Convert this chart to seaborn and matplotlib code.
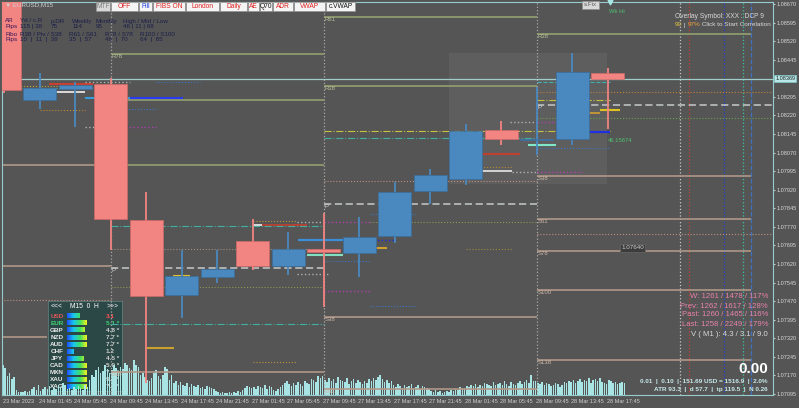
import numpy as np
import matplotlib
matplotlib.use('Agg')
import matplotlib.pyplot as plt
from matplotlib.patches import Rectangle
from matplotlib.colors import LinearSegmentedColormap
import seaborn as sns

sns.set_style('dark')
plt.rcParams['font.family'] = ['Liberation Sans', 'DejaVu Sans']

W, H = 799, 408
BG = '#555555'
UP = '#4a88c0'
DN = '#f28482'

# H4 candles overlaid on the M15 chart (EURUSD)
c_open = [1.08700, 1.08282, 1.08327, 1.08347, 1.07798, 1.07495, 1.07568, 1.07713, 1.07612,
          1.07681, 1.07665, 1.07733, 1.07915, 1.07963, 1.08161, 1.08121, 1.08125, 1.08391]
c_high = [1.08720, 1.08391, 1.08355, 1.08371, 1.07911, 1.07677, 1.07677, 1.07802, 1.07749,
          1.07826, 1.07810, 1.07951, 1.08004, 1.08185, 1.08198, 1.08335, 1.08472, 1.08412]
c_low = [1.08310, 1.08246, 1.08173, 1.07677, 1.07140, 1.07402, 1.07543, 1.07596, 1.07576,
         1.07447, 1.07568, 1.07705, 1.07862, 1.07939, 1.08101, 1.08060, 1.08101, 1.08165]
c_close = [1.08323, 1.08331, 1.08343, 1.07802, 1.07491, 1.07572, 1.07600, 1.07612, 1.07681,
           1.07669, 1.07729, 1.07911, 1.07980, 1.08157, 1.08125, 1.08125, 1.08395, 1.08369]

# M15 tick volume (one value per bar)
volume = [30, 27, 19, 22, 16, 18, 5, 3, 3, 3, 4, 3, 4, 6, 8, 5,
          10, 4, 6, 8, 6, 9, 5, 7, 6, 10, 8, 12, 10, 6, 7, 5,
          8, 6, 9, 7, 5, 10, 8, 15, 20, 18, 25, 28, 22, 24, 30, 26,
          22, 25, 30, 27, 24, 28, 26, 32, 30, 27, 25, 35, 30, 28, 20, 22,
          18, 15, 14, 17, 22, 25, 19, 16, 20, 28, 26, 15, 20, 12, 14, 10,
          13, 10, 9, 12, 8, 11, 9, 8, 10, 7, 8, 6, 9, 8, 7, 6,
          4, 3, 2, 3, 2, 2, 3, 2, 3, 2, 4, 3, 5, 7, 9, 8,
          7, 8, 6, 9, 8, 7, 10, 6, 9, 8, 5, 4, 6, 8, 10, 12,
          14, 11, 9, 12, 10, 13, 11, 9, 14, 12, 11, 16, 15, 13, 19, 17,
          19, 15, 13, 17, 14, 16, 12, 18, 15, 14, 13, 17, 11, 14, 16, 12,
          15, 13, 11, 14, 12, 16, 14, 17, 15, 18, 20, 16, 13, 15, 12, 14,
          10, 8, 11, 9, 7, 10, 8, 9, 11, 7, 8, 10, 6, 9, 8, 7,
          6, 4, 3, 5, 3, 4, 2, 3, 4, 3, 5, 4, 6, 5, 8, 7,
          7, 9, 8, 10, 9, 11, 8, 10, 9, 12, 11, 10, 9, 13, 10, 11,
          12, 10, 14, 11, 9, 13, 11, 10, 12, 14, 11, 13, 15, 12, 20, 14,
          14, 12, 11, 13, 10, 12, 11, 9, 10, 12, 11, 8, 10, 13, 12, 14,
          13, 15, 12, 14, 16, 13, 15, 14, 17, 12, 15, 16, 14, 17, 13, 12,
          11, 15, 14, 12, 13, 11, 12, 13, 12]

time_labels = ['23 Mar 2023', '24 Mar 01:45', '24 Mar 05:45', '24 Mar 09:45', '24 Mar 13:45',
               '24 Mar 17:45', '24 Mar 21:45', '27 Mar 01:45', '27 Mar 05:45', '27 Mar 09:45',
               '27 Mar 13:45', '27 Mar 17:45', '27 Mar 21:45', '28 Mar 01:45', '28 Mar 05:45',
               '28 Mar 09:45', '28 Mar 13:45', '28 Mar 17:45']
price_ticks = [1.08670, 1.08595, 1.08520, 1.08445, 1.08295, 1.08220, 1.08145, 1.08070,
               1.07995, 1.07920, 1.07845, 1.07770, 1.07695, 1.07620, 1.07545, 1.07470,
               1.07395, 1.07320, 1.07245, 1.07170, 1.07095]

# daily fibonacci pivot levels (name, price, first bar, last bar)
lvl_name = ['', '', '',
            'R78', 'R61', 'R38', 'P', 'S38',
            'R61', 'R38', 'P', 'S38', 'S61',
            'R38', 'P', 'S38', 'S61', 'S78', 'S100', 'S138']
lvl_price = [1.08020, 1.07612, 1.07325,
             1.08468, 1.08282, 1.08020, 1.07604, 1.07184,
             1.08618, 1.08339, 1.07862, 1.07406, 1.07115,
             1.08549, 1.08262, 1.07975, 1.07802, 1.07673, 1.07515, 1.07232]
lvl_start = [-1, -1, -1, 48.5, 48.5, 48.5, 48.5, 48.5,
             144.5, 144.5, 144.5, 144.5, 144.5,
             240.5, 240.5, 240.5, 240.5, 240.5, 240.5, 240.5]
lvl_end = [48.5, 48.5, 20, 144.5, 144.5, 144.5, 144.5, 144.5,
           240.5, 240.5, 240.5, 240.5, 240.5,
           337, 347, 337, 337, 337, 337, 337]

# indicator segments (VWAP, ADR, session levels ...)
seg_price = [1.08347, 1.08315, 1.08331, 1.08337, 1.08290, 1.08290, 1.08242, 1.08246, 1.08355,
             1.08355, 1.08173, 1.08173, 1.07774, 1.07681, 1.07778, 1.07778, 1.07794, 1.07790,
             1.07717, 1.07717, 1.07717, 1.07657, 1.07580, 1.07527, 1.07378, 1.07475, 1.07281,
             1.07572, 1.07224, 1.08157, 1.08129, 1.08064, 1.08012, 1.07996, 1.07992, 1.07992,
             1.07955, 1.07790, 1.07790, 1.07822, 1.07846, 1.07685, 1.07681, 1.07451, 1.07511,
             1.07632, 1.07741, 1.08101, 1.08153, 1.08089, 1.08355, 1.08315, 1.08282, 1.08230,
             1.08242, 1.08210, 1.08194, 1.08194]
seg_start = [20.7, 16.7, 0, 0, 37, 57.2, 16.7, 48.5, 68.5,
             37, 37, 48.5, 48.5, 48.5, 116.7, 112.7, 112.7, 132.5,
             132.9, 153.2, 165.4, 137, 132.5, 48.5, 48.5, -1, 64.9,
             76.6, 112.7, 144.5, 144.5, 212.7, 208.7, 208.7, 229.4, 240.5,
             144.5, 165.4, 144.5, 165.4, 172.6, 160.9, 208.7, 165.4, 144.5,
             144.5, 240.5, 236.6, 249.2, 240.5, 240.5, 240.5, 240.5, 257.3,
             269, 240.5, 228.5, 240.5]
seg_end = [40.6, 37, 48.5, 37, 57.2, 81.1, 37, 69, 88.8,
           57.2, 48.5, 69, 144.5, 144.5, 137, 116.7, 132.5, 143.8,
           153.2, 165.4, 176.7, 153.2, 147.4, 144.5, 144.5, 48.5, 77.1,
           84.3, 132.5, 273.5, 240.5, 233, 229.4, 229.4, 240.5, 260.9,
           240.5, 240.5, 165.4, 185.7, 181.2, 173, 229.4, 185.7, 165.4,
           165.4, 347, 249.2, 273.5, 273.5, 273.5, 347, 273.5, 269,
           278, 347, 240.5, 260.9]
seg_style = [('#c84030', '-', 1.5), ('#f0f0f0', '-', 1.2), ('#40b0a0', '-.', 0.8),
             ('#c8a040', ':', 0.8), ('#3a9ad8', '-', 1.5), ('#2a3af0', '-', 1.5),
             ('#c08a30', ':', 0.8), ('#3a78c0', ':', 0.8), ('#3a78c0', ':', 0.8),
             ('#b0b0b0', ':', 1.0), ('#b0b0b0', ':', 1.0), ('#b040b0', ':', 1.0),
             ('#40b0a0', '-.', 0.8), ('#a09080', ':', 0.8), ('#c04030', '-', 1.2),
             ('#f0f0f0', '-', 1.2), ('#c09040', ':', 0.8), ('#b0b0b0', ':', 1.0),
             ('#3a90d8', '-', 1.6), ('#2030e0', '-', 1.6), ('#2030e0', ':', 1.0),
             ('#80e0c0', '-', 1.5), ('#b0b0b0', ':', 1.0), ('#8a9a50', ':', 0.8),
             ('#40b0a0', '-.', 0.8), ('#c09080', ':', 0.8), ('#c8a030', '-', 1.5),
             ('#e0c030', '-', 1.5), ('#c09040', ':', 0.8), ('#c8c040', '-.', 0.8),
             ('#40b0a0', '-.', 0.8), ('#c04030', '-', 1.5), ('#b08a30', ':', 0.8),
             ('#e8e8e8', '-', 1.2), ('#b0b0b0', ':', 1.0), ('#b040b0', ':', 1.0),
             ('#c09080', ':', 0.8), ('#8a9a50', ':', 0.8), ('#b040b0', ':', 1.0),
             ('#3a78c0', ':', 0.8), ('#e0c030', '-', 1.5), ('#d0a030', '-', 1.5),
             ('#a08a40', ':', 0.8), ('#3a78c0', ':', 0.8), ('#b040b0', ':', 1.0),
             ('#3a78c0', ':', 0.8), ('#c09080', ':', 0.8), ('#80e8c8', '-', 1.5),
             ('#2030e0', '-', 1.6), ('#3a78c0', ':', 0.8), ('#40b0b0', '--', 0.8),
             ('#c08040', ':', 0.8), ('#c8c040', '-.', 0.8), ('#d0a030', '-', 1.2),
             ('#e0c020', '-', 1.5), ('#6aa050', ':', 0.8), ('#b0b0b0', ':', 1.0),
             ('#b040b0', ':', 1.0)]

vline_x = [48.5, 144.5, 240.5, 305.1, 309.1, 324.9, 333.5, 337.1]
vline_style = [('#a8a8a8', ':'), ('#a8a8a8', ':'), ('#a8a8a8', ':'), ('#c8c8c8', ':'),
               ('#c04030', ':'), ('#2040d0', ':'), ('#40c0a0', ':'), ('#4070c0', '--')]

cur_names = ['USD', 'EUR', 'GBP', 'NZD', 'AUD', 'CHF', 'JPY', 'CAD', 'MXN', 'XAU', 'XAG']
cur_vals = ['3.1', '5.1 *', '4.8 *', '7.7 *', '7.7 *', '1.2', '4.5 *', '5.9 *', '7.9 *', '9.0 *', '7.0 *']
cur_bar = [0.65, 1.0, 0.9, 1.0, 1.0, 0.35, 0.85, 1.0, 1.0, 1.0, 1.0]

buttons = ['MTF', 'OFF', 'Fill', 'FIBS ON', 'London', 'Daily', 'AE', 'Q70', 'ADR', 'VWAP', 'c.VWAP']
btn_color = ['#808080', '#e02020', '#2040e0', '#e02020', '#e02020', '#e02020', '#e02020',
             '#101010', '#e02020', '#e02020', '#101010']
btn_edges = [96, 111, 139, 153, 186, 220, 248, 260, 273, 294, 326, 356]


def fx(x, y):
    return x / W, 1 - y / H


fig = plt.figure(figsize=(W / 100, H / 100), dpi=100, facecolor=BG)
ax = fig.add_axes([2 / W, 13 / H, 771 / W, 393 / H])
vax = ax.twinx()
ax.set_zorder(2)
ax.patch.set_visible(False)
vax.set_zorder(1)
vax.set_facecolor(BG)

# volume bars
vol_x = np.arange(len(volume))
sns.barplot(x=vol_x, y=volume, native_scale=True, color='#a8e4e4', saturation=1,
            width=0.7, errorbar=None, ax=vax, linewidth=0)
vax.set_ylim(0, 393)
vax.yaxis.set_visible(False)
for s in vax.spines.values():
    s.set_visible(False)

# shaded zone
ax.add_patch(Rectangle((201, 1.07943), 71.2, 1.08472 - 1.07943, facecolor='#5e5e5e',
                       edgecolor='none', zorder=0))

for xv, (col, ls) in zip(vline_x, vline_style):
    ax.axvline(xv, color=col, ls=ls, lw=0.9, zorder=1)

for name, p, a, b in zip(lvl_name, lvl_price, lvl_start, lvl_end):
    if name == 'P':
        ax.hlines(p, a, b, color='#b4b8b8', lw=1.3, ls=(0, (4, 2)), zorder=2)
        col = '#d0d0d0'
    elif name.startswith('R'):
        ax.hlines(p, a, b, color='#94a070', lw=1.2, zorder=2)
        col = '#b8c098'
    else:
        ax.hlines(p, a, b, color='#b09888', lw=1.2, zorder=2)
        col = '#d0b8a8'
    if name:
        ax.text(a + 0.4, p, name, fontsize=4.3, color=col, va='top', ha='left', zorder=3)

for p, a, b, (col, ls, lw) in zip(seg_price, seg_start, seg_end, seg_style):
    ax.hlines(p, a, b, color=col, ls=ls, lw=lw, zorder=3)

# current price line
ax.axhline(c_close[-1], color='#a0cccc', lw=0.9, zorder=2)

# H4 candles
cx = np.arange(len(c_open)) * 16 + 0.5
for x, o, h, l, c in zip(cx, c_open, c_high, c_low, c_close):
    col = UP if c >= o else DN
    edge = '#3a6e9e' if c >= o else '#d06a68'
    ax.vlines(x, l, h, color=col, lw=1.3, zorder=4)
    ax.bar(x, max(abs(c - o), 0.00004), bottom=min(o, c), width=14.8, color=col,
           edgecolor=edge, linewidth=0.5, zorder=5)

ax.plot([273.5], [1.08676], marker='v', ms=3.5, color='#a8e8e8', zorder=6, clip_on=False)
ax.text(273.0, 1.08640, 'Wk Hi', fontsize=4.2, color='#50c070', ha='left', va='center', zorder=6)
ax.text(272.5, 1.08120, '46.15674', fontsize=4.2, color='#50c070', ha='left', va='center', zorder=6)
ax.text(278.5, 1.07685, '1.07640', fontsize=4.5, color='#d0d0d0', ha='left', va='center', zorder=6,
        bbox=dict(boxstyle='square,pad=0.2', fc='#3c3c3c', ec='#707070', lw=0.4))

ax.set_xlim(-0.45, 347)
ax.set_ylim(1.07091, 1.08678)
ax.set_xticks(np.arange(len(time_labels)) * 16)
ax.set_xticklabels(time_labels, ha='left')
ax.set_yticks(price_ticks)
ax.set_yticklabels([f'{p:.5f}' for p in price_ticks])
ax.yaxis.tick_right()
ax.tick_params(axis='x', length=1.5, pad=1.5, labelsize=4.0, colors='#c8c8c8', labelcolor='#d0d0d0')
ax.tick_params(axis='y', length=1.5, pad=1.0, labelsize=4.0, colors='#c8c8c8', labelcolor='#d8d8d8')
ax.grid(False)
for s in ax.spines.values():
    s.set_color('#98cccc')
    s.set_linewidth(0.8)

ax.annotate(f'{c_close[-1]:.5f}', xy=(1.0, c_close[-1]), xycoords=('axes fraction', 'data'),
            xytext=(1.6, 0), textcoords='offset points', va='center', ha='left', fontsize=4.0,
            color='#202020', annotation_clip=False, zorder=10,
            bbox=dict(boxstyle='square,pad=0.15', fc='#b8e8e8', ec='#80c8c8', lw=0.5))

# title and buttons
fig.text(*fx(5, 5), '\u25bc EURUSD,M15', fontsize=4.5, color='#d0d0d0', va='center', zorder=10)
for i, (lab, col) in enumerate(zip(buttons, btn_color)):
    x0, x1 = btn_edges[i], btn_edges[i + 1] - 1
    fc = '#d8d8d8' if lab == 'MTF' else '#f4f4f4'
    fig.patches.append(Rectangle(fx(x0, 11), (x1 - x0) / W, 9 / H, transform=fig.transFigure,
                                 facecolor=fc, edgecolor='#909090', lw=0.5, zorder=10))
    fig.text(*fx((x0 + x1) / 2, 6.5), lab, fontsize=4.8, color=col, ha='center', va='center', zorder=11)

# info block top-left
ink, ink2 = '#1a1e48', '#36165a'
rows = [(21, [(5, 'AR', ink2), (20, 'Yd / c.R', ink), (51, 'p.DR', ink), (72, 'Weekly', ink),
              (96, 'Monthly', ink), (123, 'High / Mid / Low', ink)]),
        (26.5, [(5, 'Pips', ink2), (20, '115 | 38', ink), (51, '75', ink), (72, '114', ink),
                (96, '95', ink), (123, '46 | 11 | 68', ink)]),
        (34.5, [(5, 'Fibo', ink2), (20, 'R38 / Piv / S38', ink), (69, 'R61 / S61', ink),
                (105, 'R78 / S78', ink), (140, 'R100 / S100', ink)]),
        (40, [(5, 'Pips', ink2), (20, '10  |  11  |  39', ink), (69, '35  |  57', ink),
              (105, '48  |  70', ink), (140, '64  |  85', ink)])]
for yy, items in rows:
    for xx, s, col in items:
        fig.text(*fx(xx, yy), s, fontsize=4.5, color=col, va='center', ha='left', zorder=10)

# top-right overlay text
fig.text(*fx(675, 16), 'Overlay Symbol: XXX : DCP 9', fontsize=4.8, color='#d8d8d8', va='center', zorder=10)
t1 = fig.text(*fx(675, 25), '99', fontsize=4.6, color='#e0c040', va='center', zorder=10)
t2 = ax.annotate(' | ', xy=(1, 0), xycoords=t1, va='bottom', fontsize=4.6, color='#d0d0d0', annotation_clip=False)
t3 = ax.annotate('97%', xy=(1, 0), xycoords=t2, va='bottom', fontsize=4.6, color='#e8a040', annotation_clip=False)
ax.annotate(' Click to Start Correlation', xy=(1, 0), xycoords=t3, va='bottom', fontsize=4.6,
            color='#d8d8d8', annotation_clip=False)

pink = '#e882aa'
for yy, s in [(297, 'W: 1261 / 1478 / 117%'), (306, 'Prev: 1262 / 1617 / 128%'),
              (315, 'Past: 1260 / 1465 / 116%'), (324, 'Last: 1258 / 2249 / 179%')]:
    fig.text(*fx(768, yy), s, fontsize=5.6, color=pink, ha='right', va='center', zorder=10)
fig.text(*fx(768, 334), 'V ( M1 ): 4.3 / 3.1 / 9.0', fontsize=5.6, color='#d8d8d8', ha='right', va='center', zorder=10)
fig.text(*fx(768, 369), '0.00', fontsize=11, color='white', weight='bold', ha='right', va='center', zorder=10)
fig.text(*fx(768, 381), '0.01  |  0.10  |  151.69 USD = 1516.9  |  2.0%', fontsize=4.6,
         color='#c8e8e8', weight='bold', ha='right', va='center', zorder=10)
fig.text(*fx(768, 390), 'ATR 93.3  |  d 57.7  |  tp 119.5  |  N 0.26', fontsize=4.6,
         color='#c8e8e8', weight='bold', ha='right', va='center', zorder=10)

# s.Fix box
fig.patches.append(Rectangle(fx(582, 9), 17 / W, 8 / H, transform=fig.transFigure,
                             facecolor='#d8d8d8', edgecolor='#909090', lw=0.5, zorder=10))
fig.text(*fx(590.5, 5), 's.Fix', fontsize=4.4, color='#606060', ha='center', va='center', zorder=11)

# currency strength panel
pax = fig.add_axes([48 / W, 1 - 391 / H, 74 / W, 90 / H])
pax.set_facecolor('#2c4846')
for s in pax.spines.values():
    s.set_color('#5c7c7a')
    s.set_linewidth(0.6)
cmap = LinearSegmentedColormap.from_list('strength', ['#1e50ff', '#18c8f0', '#40e060', '#f0f020'])
pax.text(9, 5, '<<<', fontsize=4.8, color='white', ha='center', va='center')
pax.text(36, 5, 'M15  0  H', fontsize=4.8, color='white', ha='center', va='center')
pax.text(65, 5, '>>>', fontsize=4.8, color='white', ha='center', va='center')
for r, (nm, val, fr) in enumerate(zip(cur_names, cur_vals, cur_bar)):
    yy = 15 + 7.1 * r
    ncol = {'USD': '#e05858', 'EUR': '#40d070'}.get(nm, '#e8e8e8')
    vcol = {'USD': '#ff5050', 'EUR': '#40d070'}.get(nm, '#d0d0d0')
    pax.text(9, yy, nm, fontsize=4.6, color=ncol, ha='center', va='center', weight='bold')
    grad = np.linspace(0, fr, 40)[None, :]
    pax.imshow(grad, cmap=cmap, vmin=0, vmax=1, aspect='auto',
               extent=(19, 19 + 20 * fr, yy + 2.2, yy - 2.2))
    pax.text(58, yy, val, fontsize=4.6, color=vcol, ha='left', va='center', weight='bold')
pax.set_xlim(0, 74)
pax.set_ylim(90, 0)
pax.set_xticks([])
pax.set_yticks([])

fig.savefig('out.png', dpi=100, facecolor=BG)
